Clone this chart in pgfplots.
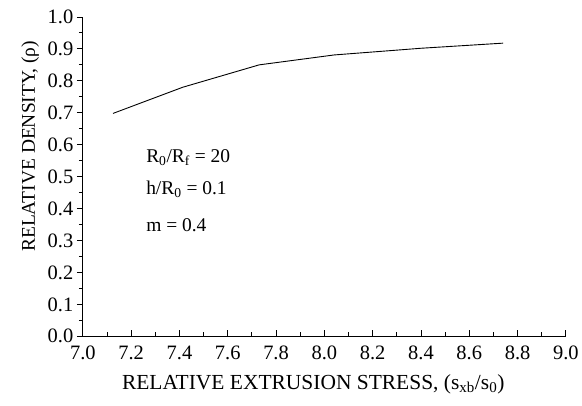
\documentclass[border=0pt]{standalone}
\usepackage{pgfplots}
\pgfplotsset{compat=1.18}
\usepackage{fontspec}
\setmainfont{Liberation Serif}
\begin{document}
\begin{tikzpicture}
\begin{axis}[
  scale only axis,
  width=484pt, height=320pt,
  xmin=7.0, xmax=9.0, ymin=0, ymax=1.0,
  axis lines*=left,
  axis line style={line width=0.9pt},
  xtick={7.0,7.2,...,9.0},
  ytick={0,0.1,...,1.0},
  minor x tick num=1,
  minor y tick num=1,
  xtick align=inside,
  ytick align=outside,
  major tick length=6pt,
  minor tick length=4pt,
  tick style={line width=0.9pt, black},
  xticklabel style={/pgf/number format/fixed,/pgf/number format/fixed zerofill,/pgf/number format/precision=1},
  yticklabel style={/pgf/number format/fixed,/pgf/number format/fixed zerofill,/pgf/number format/precision=1},
  /pgf/number format/assume math mode=true,
  tick label style={font=\fontsize{20.5}{23}\selectfont},
  xticklabel shift=6pt,
  xlabel={RELATIVE EXTRUSION STRESS, (s\textsubscript{xb}/s\textsubscript{0})},
  ylabel={RELATIVE DENSITY, (ρ)},
  xlabel style={font=\fontsize{21.5}{24}\selectfont, at={(ticklabel cs:0.477)}, anchor=north, yshift=-8pt},
  ylabel style={font=\fontsize{19.5}{22}\selectfont, at={(ticklabel cs:0.595)}, anchor=south, yshift=2pt},
  clip=false,
]
\addplot[black, line width=0.9pt] coordinates {
  (7.125,0.698) (7.414,0.780) (7.73,0.850) (8.04,0.881) (8.40,0.902) (8.74,0.918)
};
\node[anchor=base west, font=\fontsize{19.5}{22}\selectfont] at (axis cs:7.248,0.544) {R\textsubscript{0}/R\textsubscript{f} = 20};
\node[anchor=base west, font=\fontsize{19.5}{22}\selectfont] at (axis cs:7.248,0.444) {h/R\textsubscript{0} = 0.1};
\node[anchor=base west, font=\fontsize{19.5}{22}\selectfont] at (axis cs:7.248,0.328) {m = 0.4};
\coordinate (o) at (rel axis cs:0,0);
\end{axis}
\path (o) ++(-83pt,-69pt) rectangle ++(582pt,406pt);
\end{tikzpicture}
\end{document}
